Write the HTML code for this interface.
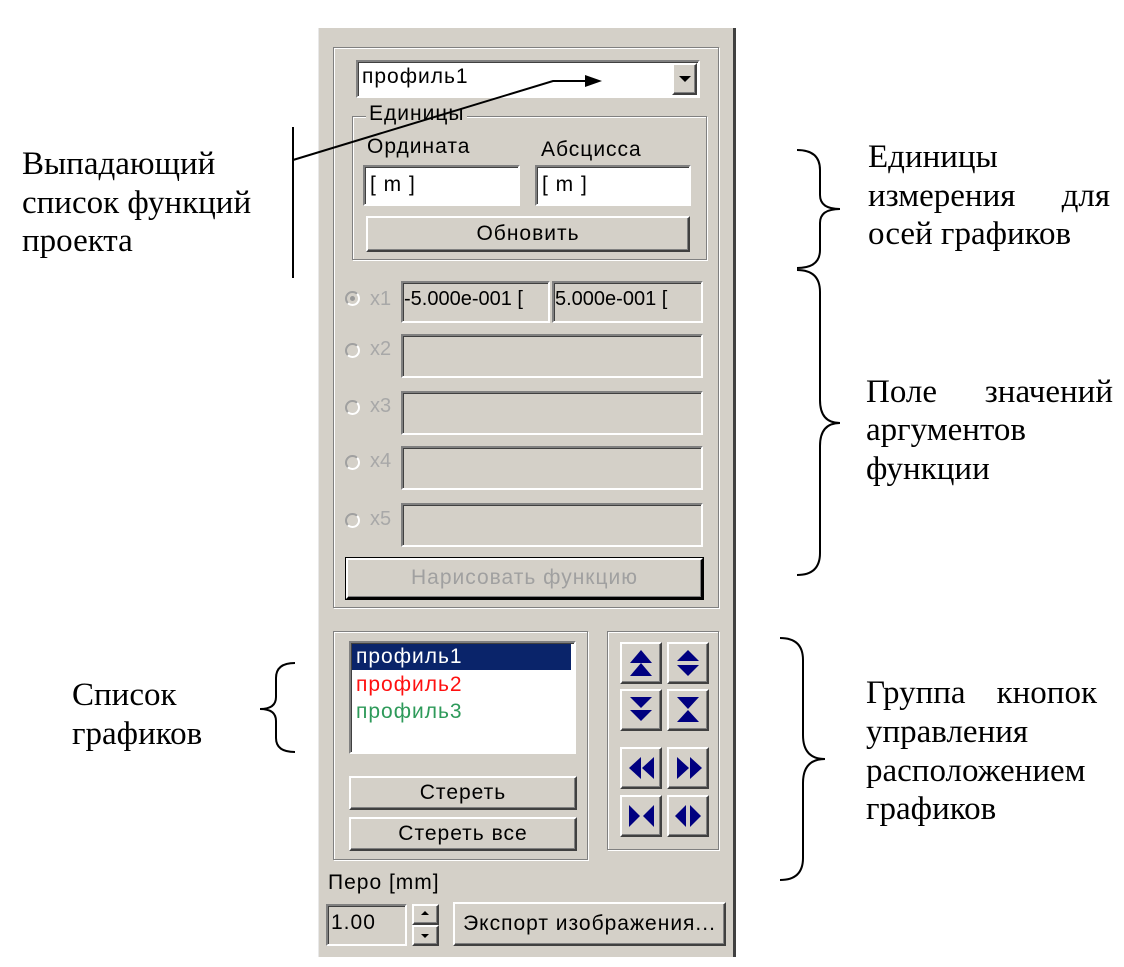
<!DOCTYPE html>
<html><head><meta charset="utf-8"><style>
body{margin:0;width:1124px;height:967px;background:#fff;position:relative;overflow:hidden;font-family:"Liberation Sans",sans-serif}
.a{position:absolute}
.t{position:absolute;font-family:"Liberation Serif",serif;font-size:33px;color:#000;line-height:38.5px;white-space:nowrap}
.g{position:absolute;border:1px solid #808080;box-shadow:1px 1px 0 #fff, inset 1px 1px 0 #fff}
.s{position:absolute;box-sizing:border-box;border-top:2px solid #808080;border-left:2px solid #808080;border-bottom:2px solid #fff;border-right:2px solid #fff;box-shadow:inset 1px 1px 0 #404040}
.b{position:absolute;box-sizing:border-box;background:#d4d0c8;border-top:2px solid #fff;border-left:2px solid #fff;border-bottom:2px solid #404040;border-right:2px solid #404040;box-shadow:inset -1px -1px 0 #808080;font-size:21px;letter-spacing:1px;text-align:center;color:#000;white-space:nowrap}
.w{font-size:21px;letter-spacing:1px;color:#000;white-space:nowrap}
.r{position:absolute;width:15px;height:15px;border-radius:50%;border:2px solid #a0a0a0;border-right-color:#fff;border-bottom-color:#fff;box-sizing:border-box}
.x{position:absolute;font-size:20px;color:#a8a8a8}
</style></head><body>
<div class="a" style="left:318px;top:28px;width:418px;height:929px;background:#d4d0c8;border-left:1px solid #e8e8e8;border-right:3px solid #404040;box-sizing:border-box"></div>
<div class="g" style="left:333px;top:47px;width:384px;height:559px"></div>
<div class="s" style="left:356px;top:60px;width:344px;height:38px;background:#fff"></div>
<div class="a w" style="left:362px;top:65px">профиль1</div>
<div class="b" style="left:672px;top:63px;width:25px;height:32px"></div>
<div class="a" style="left:679px;top:76px;width:0;height:0;border-left:6px solid transparent;border-right:6px solid transparent;border-top:6px solid #000"></div>
<div class="g" style="left:352px;top:116px;width:353px;height:142px"></div>
<div class="a w" style="left:366px;top:102px;background:#d4d0c8;padding:0 3px">Единицы</div>
<div class="a w" style="left:367px;top:135px">Ордината</div>
<div class="a w" style="left:541px;top:138px">Абсцисса</div>
<div class="s" style="left:363px;top:165px;width:157px;height:41px;background:#fff"></div>
<div class="a w" style="left:370px;top:173px">[ m ]</div>
<div class="s" style="left:535px;top:165px;width:156px;height:41px;background:#fff"></div>
<div class="a w" style="left:542px;top:173px">[ m ]</div>
<div class="b" style="left:366px;top:216px;width:324px;height:36px;line-height:31px">Обновить</div>
<div class="r" style="left:345px;top:291px;background:#d4d0c8"></div><div class="a" style="left:350px;top:296px;width:5px;height:5px;background:#999;border-radius:50%"></div>
<div class="x" style="left:370px;top:288px">x1</div>
<div class="s" style="left:401px;top:281px;width:149px;height:42px"></div>
<div class="a" style="left:404px;top:288px;font-size:20px">-5.000e-001 [</div>
<div class="s" style="left:552px;top:281px;width:151px;height:42px"></div>
<div class="a" style="left:555px;top:288px;font-size:20px">5.000e-001 [</div>
<div class="r" style="left:345px;top:343px"></div><div class="x" style="left:370px;top:338px">x2</div>
<div class="s" style="left:401px;top:334px;width:302px;height:44px"></div>
<div class="r" style="left:345px;top:400px"></div><div class="x" style="left:370px;top:395px">x3</div>
<div class="s" style="left:401px;top:391px;width:302px;height:44px"></div>
<div class="r" style="left:345px;top:455px"></div><div class="x" style="left:370px;top:450px">x4</div>
<div class="s" style="left:401px;top:446px;width:302px;height:44px"></div>
<div class="r" style="left:345px;top:513px"></div><div class="x" style="left:370px;top:508px">x5</div>
<div class="s" style="left:401px;top:503px;width:302px;height:44px"></div>
<div class="b" style="left:346px;top:558px;width:357px;height:41px;line-height:36px;color:#a0a0a0;border:2px solid #000;border-top-color:#fff;border-left-color:#fff;outline:1px solid #000">Нарисовать функцию</div>
<div class="g" style="left:333px;top:631px;width:253px;height:227px"></div>
<div class="s" style="left:349px;top:641px;width:227px;height:113px;background:#fff"></div>
<div class="a" style="left:352px;top:644px;width:219px;height:26px;background:#0a246a"></div>
<div class="a w" style="left:356px;top:645px;color:#fff">профиль1</div>
<div class="a w" style="left:356px;top:673px;color:#ff1010">профиль2</div>
<div class="a w" style="left:356px;top:700px;color:#2e9a5a">профиль3</div>
<div class="b" style="left:349px;top:776px;width:228px;height:34px;line-height:29px">Стереть</div>
<div class="b" style="left:349px;top:817px;width:228px;height:34px;line-height:29px">Стереть все</div>
<div class="g" style="left:607px;top:631px;width:110px;height:217px"></div>
<div class="b" style="left:620px;top:642px;width:42px;height:42px"></div>
<div class="b" style="left:667px;top:642px;width:42px;height:42px"></div>
<div class="b" style="left:620px;top:689px;width:42px;height:42px"></div>
<div class="b" style="left:667px;top:689px;width:42px;height:42px"></div>
<div class="b" style="left:620px;top:747px;width:42px;height:42px"></div>
<div class="b" style="left:667px;top:747px;width:42px;height:42px"></div>
<div class="b" style="left:620px;top:795px;width:42px;height:42px"></div>
<div class="b" style="left:667px;top:795px;width:42px;height:42px"></div>
<svg class="a" style="left:0;top:0" width="1124" height="967" fill="#000080">
<polygon points="630,663 641,650 652,663"/><polygon points="630,676 641,663 652,676"/>
<polygon points="677,661 688,650 699,661"/><polygon points="677,665 688,676 699,665"/>
<polygon points="630,697 641,708 652,697"/><polygon points="630,710 641,721 652,710"/>
<polygon points="677,697 688,709 699,697"/><polygon points="677,722 688,710 699,722"/>
<polygon points="641,757 629,768 641,779"/><polygon points="654,757 642,768 654,779"/>
<polygon points="677,757 689,768 677,779"/><polygon points="690,757 702,768 690,779"/>
<polygon points="629,805 640,816 629,827"/><polygon points="654,805 643,816 654,827"/>
<polygon points="686,805 675,816 686,827"/><polygon points="690,805 701,816 690,827"/>
</svg>
<div class="a w" style="left:328px;top:871px">Перо [mm]</div>
<div class="s" style="left:326px;top:904px;width:81px;height:42px"></div>
<div class="a w" style="left:331px;top:911px">1.00</div>
<div class="b" style="left:412px;top:904px;width:27px;height:21px"></div>
<div class="b" style="left:412px;top:925px;width:27px;height:21px"></div>
<div class="a" style="left:421px;top:911px;border-left:4px solid transparent;border-right:4px solid transparent;border-bottom:4px solid #000"></div>
<div class="a" style="left:421px;top:934px;border-left:4px solid transparent;border-right:4px solid transparent;border-top:4px solid #000"></div>
<div class="b" style="left:453px;top:902px;width:273px;height:44px;line-height:39px">Экспорт изображения...</div>
<svg class="a" style="left:0;top:0" width="1124" height="967" fill="none" stroke="#000" stroke-width="2">
<line x1="293" y1="127" x2="293" y2="278"/>
<polyline points="293,160 553,81 585,81"/>
<polygon points="585,75 602,81 585,87" fill="#000" stroke="none"/>
<path d="M797,150 Q820,150 820,170 L820,195 Q820,209 840,209 Q820,209 820,223 L820,250 Q820,268 797,268"/>
<path d="M797,270 Q820,270 820,292 L820,400 Q820,423 840,423 Q820,423 820,446 L820,553 Q820,575 797,575"/>
<path d="M295,663 Q276,663 276,678 L276,697 Q276,709 260,709 Q276,709 276,721 L276,738 Q276,752 295,752"/>
<path d="M780,638 Q803,638 803,660 L803,735 Q803,759 825,759 Q803,759 803,783 L803,858 Q803,880 780,880"/>
</svg>
<div class="t" style="left:22px;top:145px">Выпадающий<br>список функций<br>проекта</div>
<div class="t" style="left:868px;top:138px">Единицы</div>
<div class="t" style="left:868px;top:177px">измерения</div><div class="t" style="right:14px;top:177px">для</div>
<div class="t" style="left:868px;top:215px">осей графиков</div>
<div class="t" style="left:866px;top:373px">Поле</div><div class="t" style="right:11px;top:373px">значений</div>
<div class="t" style="left:866px;top:411px">аргументов<br>функции</div>
<div class="t" style="left:866px;top:674px">Группа</div><div class="t" style="right:27px;top:674px">кнопок</div>
<div class="t" style="left:866px;top:713px">управления<br>расположением<br>графиков</div>
<div class="t" style="left:72px;top:676px">Список<br>графиков</div>
</body></html>
